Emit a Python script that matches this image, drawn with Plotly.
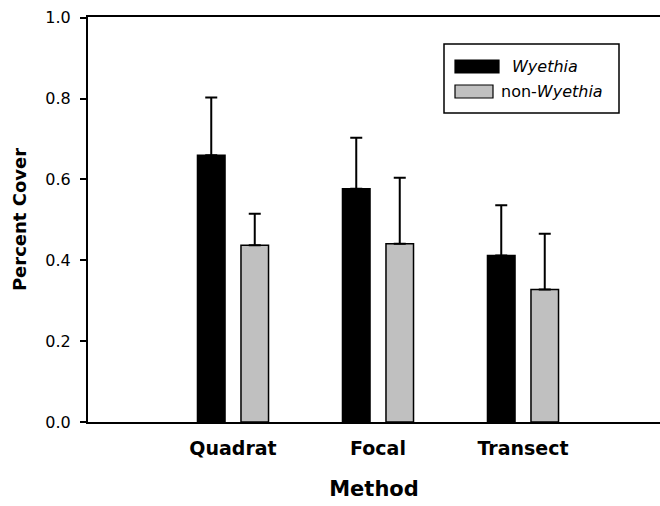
import plotly.graph_objects as go

methods = ["Quadrat", "Focal", "Transect"]
wyethia = [0.66, 0.577, 0.412]
wyethia_err = [0.143, 0.126, 0.124]
non_wyethia = [0.437, 0.441, 0.328]
non_wyethia_err = [0.078, 0.163, 0.138]
series_names = ["<i>Wyethia</i>", "non-<i>Wyethia</i>"]
series_colors = ["#000000", "#c0c0c0"]
y_ticks = [0.0, 0.2, 0.4, 0.6, 0.8, 1.0]

FONT = "DejaVu Sans, Arial, sans-serif"

W, H = 660, 506
L, T = 88, 17
PW, PH = W - L, 405
B = H - T - PH
XPX = 145.0  # pixels per category step

def px_x(x):
    return (x - L) / PW

def px_y(y):
    return (422 - y) / PH

fig = go.Figure()
for name, vals, errs, col, off in [
    (series_names[0], wyethia, wyethia_err, series_colors[0], -0.245),
    (series_names[1], non_wyethia, non_wyethia_err, series_colors[1], 0.055),
]:
    fig.add_trace(go.Bar(
        x=methods, y=vals, name=name,
        width=0.19, offset=off,
        marker=dict(color=col, line=dict(color="#000000", width=1.5)),
        error_y=dict(type="data", array=errs, arrayminus=[0] * len(errs),
                     symmetric=False, color="#000000", thickness=2, width=6),
        showlegend=False,
    ))

# custom legend box (paper coords)
shapes = [dict(type="rect", xref="paper", yref="paper",
               x0=px_x(444), x1=px_x(619), y0=px_y(113), y1=px_y(44),
               line=dict(color="#000000", width=1.5), fillcolor="white", layer="above")]
annotations = []
legend_rows = [(66.5, 499, 510), (91.5, 493, 499)]
for (nm, col), (yc, xr, xt) in zip(zip(series_names, series_colors), legend_rows):
    shapes.append(dict(type="rect", xref="paper", yref="paper",
                       x0=px_x(455), x1=px_x(xr),
                       y0=px_y(yc + 6.5), y1=px_y(yc - 6.5),
                       line=dict(color="#000000", width=1.2), fillcolor=col, layer="above"))
    annotations.append(dict(xref="paper", yref="paper", x=px_x(xt),
                            y=px_y(yc), text=nm, showarrow=False,
                            xanchor="left", yanchor="middle",
                            font=dict(family=FONT, size=16, color="#000000")))

fig.update_layout(
    width=W, height=H,
    margin=dict(l=L, r=0, t=T, b=B, pad=0),
    paper_bgcolor="white", plot_bgcolor="white",
    font=dict(family=FONT, color="#000000"),
    shapes=shapes, annotations=annotations,
    xaxis=dict(range=[-1.0, -1.0 + PW / XPX], showline=True, linecolor="#000000", linewidth=2,
               mirror=True, ticks="", showgrid=False, zeroline=False,
               tickfont=dict(family=FONT, size=19, weight="bold"),
               ticklabelstandoff=8,
               title=dict(text="<b>Method</b>", font=dict(family=FONT, size=21), standoff=24)),
    yaxis=dict(range=[0, 1.002], tickvals=y_ticks, tickformat=".1f",
               showline=True, linecolor="#000000", linewidth=2, mirror=False,
               ticks="outside", ticklen=6, tickwidth=1.5, tickcolor="#000000",
               showgrid=False, zeroline=False, ticklabelstandoff=6,
               tickfont=dict(family=FONT, size=16),
               title=dict(text="<b>Percent Cover</b>", font=dict(family=FONT, size=18), standoff=14)),
)

fig.write_html(
    "out.html",
    config={"displayModeBar": False},
    post_script="document.body.style.margin='0';document.body.style.overflow='hidden';",
)
